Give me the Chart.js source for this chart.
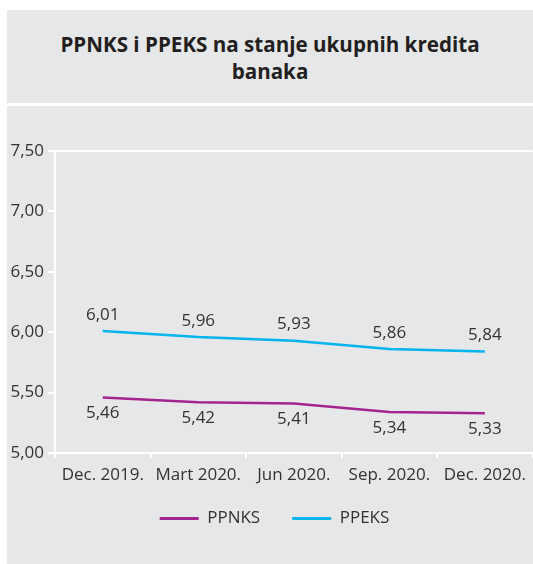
<!DOCTYPE html>
<html>
<head>
<meta charset="utf-8">
<script src="https://cdn.jsdelivr.net/npm/chart.js@4/dist/chart.umd.min.js"></script>
<style>
  html, body { margin: 0; padding: 0; background: #ffffff; }
  #wrap { position: relative; width: 533px; height: 564px; overflow: hidden; }
  #titlePanel { position: absolute; left: 7px; top: 10px; width: 526px; height: 93px; background: #e6e7e8;
    font-family: "Open Sans", sans-serif; font-weight: 700; font-size: 20.6px; color: #231f20;
    text-align: center; line-height: 27px; box-sizing: border-box; padding-top: 21px; }
  #chartPanel { position: absolute; left: 7px; top: 106px; width: 526px; height: 458px; background: #e6e7e8; }
  #c { position: absolute; left: 0; top: 0; }
</style>
</head>
<body>
<div id="wrap">
  <div id="titlePanel">PPNKS i PPEKS na stanje ukupnih kredita<br>banaka</div>
  <div id="chartPanel"></div>
  <canvas id="c" width="533" height="564"></canvas>
</div>
<script>
const categories = ["Dec. 2019.", "Mart 2020.", "Jun 2020.", "Sep. 2020.", "Dec. 2020."];
const ppnks = [5.46, 5.42, 5.41, 5.34, 5.33];
const ppeks = [6.01, 5.96, 5.93, 5.86, 5.84];
const seriesNames = ["PPNKS", "PPEKS"];
const yMin = 5.0, yMax = 7.5, yStep = 0.5;

const fmt = v => Number(v).toFixed(2).replace('.', ',');
const FONT = '"Open Sans", sans-serif';
const TXT = '#333333';

const dataLabels = {
  id: 'dataLabels',
  afterDatasetsDraw(chart) {
    const ctx = chart.ctx;
    ctx.save();
    ctx.font = '17px ' + FONT;
    ctx.fillStyle = TXT;
    ctx.textAlign = 'center';
    ctx.textBaseline = 'middle';
    chart.data.datasets.forEach((ds, i) => {
      const meta = chart.getDatasetMeta(i);
      const dy = ds.labelAbove ? -16 : 16;
      meta.data.forEach((pt, j) => {
        ctx.fillText(fmt(ds.data[j]), pt.x, pt.y + dy);
      });
    });
    ctx.restore();
  }
};

const legendShift = {
  id: 'legendShift',
  afterLayout(chart) {
    if (chart.legend) { chart.legend.left += 8; chart.legend.right += 8; }
  }
};

new Chart(document.getElementById('c'), {
  type: 'line',
  data: {
    labels: categories,
    datasets: [
      { label: seriesNames[0], data: ppnks, borderColor: '#a3238f', backgroundColor: '#a3238f',
        borderWidth: 2.5, pointRadius: 0, tension: 0, labelAbove: false },
      { label: seriesNames[1], data: ppeks, borderColor: '#00b4ec', backgroundColor: '#00b4ec',
        borderWidth: 2.5, pointRadius: 0, tension: 0, labelAbove: true }
    ]
  },
  options: {
    responsive: false,
    animation: false,
    devicePixelRatio: 1,
    layout: { padding: { top: 151, left: 0, right: 0, bottom: 27 } },
    plugins: {
      title: { display: false },
      tooltip: { enabled: false },
      legend: {
        position: 'bottom',
        labels: {
          font: { family: FONT, size: 17 },
          color: TXT,
          boxWidth: 39,
          boxHeight: 3,
          padding: 32,
          generateLabels(chart) {
            return chart.data.datasets.map((ds, i) => ({
              text: ds.label, fillStyle: ds.borderColor, strokeStyle: ds.borderColor,
              lineWidth: 0, hidden: false, datasetIndex: i, fontColor: TXT
            }));
          }
        }
      }
    },
    scales: {
      x: {
        offset: true,
        afterFit(scale) { scale.height = 25; scale._computeLabelArea = () => undefined; },
        grid: { display: true, drawOnChartArea: false, drawTicks: true, tickLength: 5, color: '#ffffff', lineWidth: 2, offset: true },
        border: { display: true, color: '#ffffff', width: 2 },
        ticks: { font: { family: FONT, size: 17 }, color: TXT, padding: 7, maxRotation: 0, autoSkip: false }
      },
      y: {
        min: yMin, max: yMax,
        afterFit(scale) { scale.width = 55; },
        grid: { display: true, drawOnChartArea: false, drawTicks: true, tickLength: 7, color: '#ffffff', lineWidth: 2 },
        border: { display: true, color: '#ffffff', width: 2 },
        ticks: { stepSize: yStep, callback: v => fmt(v), font: { family: FONT, size: 17 }, color: TXT, padding: 4 }
      }
    }
  },
  plugins: [dataLabels, legendShift, {
    id: 'topLine',
    afterDraw(chart) {
      const a = chart.chartArea, ctx = chart.ctx;
      ctx.save();
      ctx.strokeStyle = '#ffffff'; ctx.lineWidth = 2;
      ctx.beginPath(); ctx.moveTo(a.left, a.top); ctx.lineTo(a.right, a.top); ctx.stroke();
      ctx.restore();
    }
  }]
});
</script>
</body>
</html>
